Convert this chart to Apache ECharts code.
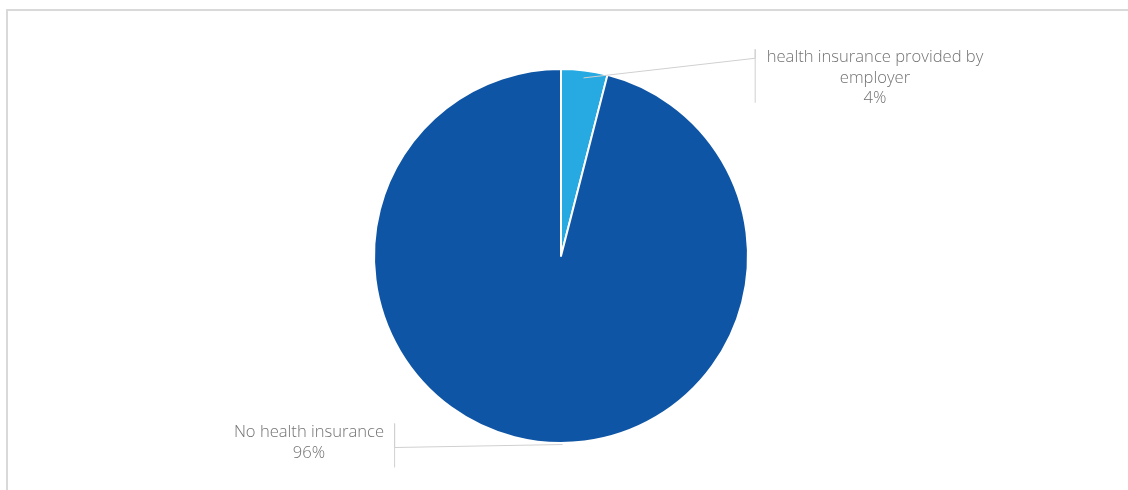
<!DOCTYPE html>
<html>
<head>
<meta charset="utf-8">
<script src="https://cdn.jsdelivr.net/npm/echarts@6/dist/echarts.min.js"></script>
<style>
html,body{margin:0;padding:0;background:#fff;}
#c{width:1128px;height:490px;}
</style>
</head>
<body>
<div id="c"></div>
<script>
const categories = ['health insurance provided by\nemployer', 'No health insurance'];
const values = [4, 96];
const colors = ['#27a9e1', '#0f55a5'];

const CX = 561, CY = 256, R = 187;
// label placement offsets from pie centre (layout only)
const labelOffsets = [[314, -178], [-252, 187]];
const anchorFactor = [0.96, 1.0];

const chart = echarts.init(document.getElementById('c'), null, {renderer: 'canvas'});

const total = values.reduce((a, b) => a + b, 0);
function midAngle(i) {
  let s = 0;
  for (let k = 0; k < i; k++) s += values[k];
  return ((s + values[i] / 2) / total) * Math.PI * 2;
}

const baseData = categories.map((name, i) => ({
  name, value: values[i], itemStyle: {color: colors[i]}
}));

chart.setOption({
  animation: false,
  graphic: [{
    type: 'rect',
    shape: {x: 7, y: 10, width: 1200, height: 600},
    style: {fill: 'none', stroke: '#d9d9d9', lineWidth: 2},
    silent: true,
    z: -1
  }],
  series: [{
    type: 'pie',
    center: [CX, CY],
    radius: R,
    startAngle: 90,
    clockwise: true,
    data: baseData,
    itemStyle: {borderColor: '#ffffff', borderWidth: 2},
    label: {show: false},
    labelLine: {show: false},
    z: 2
  }, {
    type: 'pie',
    center: [CX, CY],
    radius: R,
    startAngle: 90,
    clockwise: true,
    silent: true,
    z: 3,
    data: categories.map((name, i) => ({name, value: values[i]})),
    itemStyle: {color: 'rgba(0,0,0,0)', borderWidth: 0},
    label: {
      show: true,
      formatter: p => p.name + '\n' + p.value + '%',
      fontFamily: 'Open Sans',
      fontWeight: 300,
      fontSize: 16.6,
      lineHeight: 20.5,
      color: '#727272',
      align: 'center'
    },
    labelLine: {
      show: true,
      lineStyle: {color: '#d0d0d0', width: 1}
    },
    labelLayout: function (params) {
      const i = params.dataIndex;
      const a = midAngle(i);
      const f = anchorFactor[i];
      const ax = CX + R * f * Math.sin(a);
      const ay = CY - R * f * Math.cos(a);
      const lx = CX + labelOffsets[i][0];
      const ly = CY + labelOffsets[i][1];
      const w = params.labelRect.width, h = params.labelRect.height;
      let pts;
      if (i === 0) {
        const bx = lx - w / 2 - 11.5;
        const top = ly - h / 2 + 2, bot = ly + h / 2 - 6;
        pts = [[ax, ay], [bx, top + 9], [bx, top], [bx, bot]];
      } else {
        const bx = lx + w / 2 + 10.5;
        const top = ly - h / 2 + 1, bot = ly + h / 2 + 4;
        pts = [[ax + 25, ay + 3], [bx, (top + bot) / 2 + 2], [bx, top], [bx, bot]];
      }
      return {
        x: lx, y: ly, align: 'center', verticalAlign: 'middle',
        labelLinePoints: pts
      };
    }
  }]
});
</script>
</body>
</html>
